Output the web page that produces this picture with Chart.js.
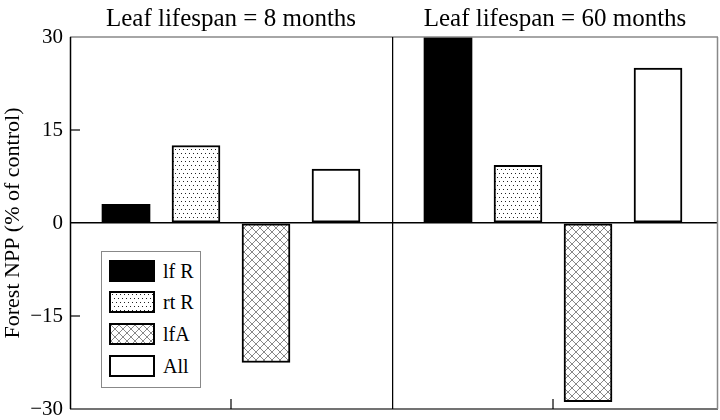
<!DOCTYPE html>
<html>
<head>
<meta charset="utf-8">
<script src="https://cdn.jsdelivr.net/npm/chart.js@4"></script>
<style>
body { margin: 0; background: #fff; }
#wrap { position: relative; width: 720px; height: 420px; }
#c1 { position: absolute; left: 0; top: 0; }
#c2 { position: absolute; left: 392px; top: 0; }
#legend { position: absolute; left: 101px; top: 251px; width: 98px; height: 135px;
  border: 1px solid #888; background: #fff; font-family: "Liberation Serif", serif; font-size: 20px; }
.item { position: absolute; left: 7px; height: 22px; display: flex; align-items: center; }
.sw { width: 42px; height: 18px; border: 2px solid #000; margin-right: 8px; box-sizing: content-box; }
</style>
</head>
<body>
<div id="wrap">
  <canvas id="c1" width="392" height="420"></canvas>
  <canvas id="c2" width="328" height="420"></canvas>
  <div id="legend"></div>
</div>
<script>
// series (same order in both panels)
const series = ['lf R', 'rt R', 'lfA', 'All'];
const panelTitles = ['Leaf lifespan = 8 months', 'Leaf lifespan = 60 months'];
const npp8 = [3, 12.5, -22.5, 8.7];
const npp60 = [30, 9.3, -28.8, 25];
const yTicks = [-30, -15, 0, 15, 30];

const FONT = '"Liberation Serif", "Times New Roman", serif';
Chart.defaults.font.family = FONT;
Chart.defaults.color = '#000';

// fill patterns
function tile(size, draw) {
    const c = document.createElement('canvas');
    c.width = size; c.height = size;
    const g = c.getContext('2d');
    g.fillStyle = '#fff';
    g.fillRect(0, 0, size, size);
    draw(g);
    return c;
}
const dotTile = tile(8, g => {
    g.fillStyle = '#222';
    g.fillRect(1, 1, 1, 1); g.fillRect(5, 1, 1, 1);
    g.fillRect(3, 5, 1, 1); g.fillRect(7, 5, 1, 1);
});
const hatchTile = tile(8, g => {
    g.strokeStyle = '#888';
    g.lineWidth = 1;
    g.beginPath();
    g.moveTo(0, 0); g.lineTo(8, 8);
    g.moveTo(8, 0); g.lineTo(0, 8);
    g.stroke();
});
const pctx = document.createElement('canvas').getContext('2d');
const fills = ['#000', pctx.createPattern(dotTile, 'repeat'), pctx.createPattern(hatchTile, 'repeat'), '#fff'];
const swatchCss = ['background:#000', `background-image:url(${dotTile.toDataURL()})`,
    `background-image:url(${hatchTile.toDataURL()})`, 'background:#fff'];

// legend (html)
const legendEl = document.getElementById('legend');
const itemTops = [8, 39, 71, 103];
series.forEach((s, i) => {
    const d = document.createElement('div');
    d.className = 'item';
    d.style.top = itemTops[i] + 'px';
    d.innerHTML = `<span class="sw" style="${swatchCss[i]}"></span><span>${s}</span>`;
    legendEl.appendChild(d);
});

// frame + inward ticks
const framePlugin = {
    id: 'frame',
    afterDraw(chart, args, opts) {
        const { ctx, chartArea: a, scales } = chart;
        ctx.save();
        ctx.lineWidth = 1.5;
        const line = (x1, y1, x2, y2, col) => {
            ctx.strokeStyle = col;
            ctx.beginPath(); ctx.moveTo(x1, y1); ctx.lineTo(x2, y2); ctx.stroke();
        };
        line(a.left, a.top, a.right, a.top, '#888');
        line(a.left, a.bottom, a.right, a.bottom, '#444');
        line(a.left + 0.5, a.top, a.left + 0.5, a.bottom, '#000');
        if (opts.right) line(a.right - 0.5, a.top, a.right - 0.5, a.bottom, opts.right);
        ctx.lineWidth = 1.2;
        if (opts.yTicks) {
            [15, -15].forEach(v => {
                const y = scales.y.getPixelForValue(v);
                line(a.left, y, a.left + 10, y, '#000');
            });
        }
        const x = scales.x.getPixelForValue(1.5);
        line(x, a.bottom, x, a.bottom - 10, '#000');
        ctx.restore();
    }
};

function makeChart(id, title, values, showY, xMax, rightColor) {
    return new Chart(document.getElementById(id), {
        type: 'bar',
        data: {
            datasets: [{
                data: values.map((v, i) => ({ x: i, y: v })),
                backgroundColor: fills,
                borderColor: '#000',
                borderWidth: [0, 2, 2, 2],
                borderSkipped: false,
                barThickness: 48
            }]
        },
        options: {
            responsive: false,
            animation: false,
            layout: { padding: { left: 0, right: showY ? 0 : 2, top: 0, bottom: 11 } },
            scales: {
                x: {
                    type: 'linear', min: -0.8, max: xMax, offset: false,
                    ticks: { display: false },
                    grid: { display: false },
                    border: { display: false },
                    afterFit: s => { s.height = 0; }
                },
                y: {
                    min: -30, max: 30,
                    afterBuildTicks: s => { s.ticks = yTicks.map(v => ({ value: v })); },
                    ticks: {
                        display: showY, padding: 7, color: '#000',
                        font: { family: FONT, size: 21 },
                        callback: v => String(v).replace('-', '\u2212')
                    },
                    grid: {
                        drawTicks: false, lineWidth: 1.5,
                        color: c => (c.tick && c.tick.value === 0 ? '#000' : 'rgba(0,0,0,0)')
                    },
                    border: { display: false },
                    title: {
                        display: showY, text: 'Forest NPP (% of control)', color: '#000',
                        font: { family: FONT, size: 22 }, padding: { top: 0, bottom: 0 }
                    },
                    afterFit: s => {
                        s.width = showY ? 70 : 0;
                        s.paddingTop = 0;
                        s.paddingBottom = 0;
                    }
                }
            },
            plugins: {
                legend: { display: false },
                tooltip: { enabled: false },
                title: {
                    display: true, text: title, fullSize: false, color: '#000',
                    font: { family: FONT, size: 25, weight: 'normal' },
                    padding: { top: 4, bottom: 3 }
                },
                frame: { yTicks: showY, right: rightColor }
            }
        },
        plugins: [framePlugin]
    });
}

document.fonts.load('20px "Liberation Serif"').then(() => {
    makeChart('c1', panelTitles[0], npp8, true, 3.8, null);
    makeChart('c2', panelTitles[1], npp60, false, 3.857, '#888');
});
</script>
</body>
</html>
